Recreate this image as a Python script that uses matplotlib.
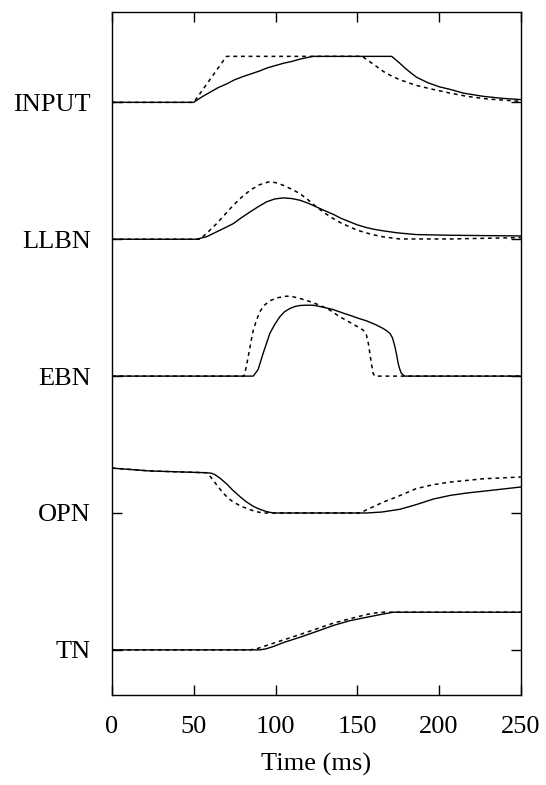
import matplotlib
matplotlib.use("Agg")
import matplotlib.pyplot as plt
import numpy as np

plt.rcParams['font.family'] = ['Liberation Serif', 'DejaVu Serif']

# Neuron labels, top to bottom
names = ["INPUT", "LLBN", "EBN", "OPN", "TN"]

# Activity (heights above each baseline, in units of track spacing)
# solid = model, dashed = reference
input_t_solid = [0, 50, 55, 60, 65, 70, 75, 80, 85, 90, 95, 100, 105, 110, 115, 120, 123,
                 171, 175, 180, 186, 193, 200, 207, 215, 227, 238, 250]
input_v_solid = [0, 0, 0.040, 0.074, 0.108, 0.134, 0.165, 0.188, 0.208, 0.228, 0.252, 0.269, 0.286,
                 0.299, 0.316, 0.329, 0.336,
                 0.336, 0.296, 0.242, 0.185, 0.144, 0.114, 0.094, 0.067, 0.044, 0.030, 0.020]
input_t_dash = [0, 50, 70, 153, 157, 161, 166, 171, 176, 186, 196.5, 207, 217, 230, 250]
input_v_dash = [0, 0, 0.336, 0.336, 0.302, 0.269, 0.225, 0.192, 0.165, 0.124, 0.094, 0.067, 0.044,
                0.024, 0.007]

llbn_t_solid = [0, 51.8, 58, 64, 69, 74.2, 79, 84.5, 89.5, 94.5, 99.5, 104.7, 110, 114.9, 120, 125,
                130, 135.3, 140, 145.4, 150, 155.6, 160, 166, 175, 186, 207, 250]
llbn_v_solid = [0, 0, 0.019, 0.054, 0.083, 0.114, 0.156, 0.200, 0.238, 0.273, 0.294, 0.302, 0.297,
                0.285, 0.263, 0.236, 0.209, 0.182, 0.153, 0.127, 0.105, 0.085, 0.073, 0.061, 0.046,
                0.034, 0.029, 0.024]
llbn_t_dash = [0, 53.8, 58, 64, 69, 74.2, 79, 84.5, 90, 95.5, 100, 104.7, 110, 114.9, 120, 125, 130,
               135.3, 140, 145.4, 150, 155.6, 160, 166, 176, 207, 250]
llbn_v_dash = [0, 0, 0.044, 0.114, 0.180, 0.248, 0.304, 0.358, 0.397, 0.418, 0.414, 0.394, 0.365,
               0.333, 0.287, 0.236, 0.192, 0.151, 0.119, 0.090, 0.066, 0.046, 0.032, 0.017, 0.002,
               0.002, 0.012]

ebn_t_solid = [0, 86.4, 89.4, 92.4, 96.5, 99.5, 102.6, 105.5, 108.8, 112, 115, 119, 123, 129, 135,
               141, 147, 151, 155.6, 161, 165.8, 168, 170, 171.5, 173, 174, 175, 176, 177, 179, 250]
ebn_v_solid = [0, 0, 0.049, 0.165, 0.311, 0.377, 0.433, 0.470, 0.494, 0.509, 0.516, 0.518, 0.518,
               0.504, 0.487, 0.462, 0.438, 0.421, 0.404, 0.377, 0.348, 0.331, 0.311, 0.280, 0.214,
               0.158, 0.092, 0.049, 0.019, 0, 0]
ebn_t_dash = [0, 80.7, 82, 83.3, 84.8, 86.4, 88.4, 90.4, 93, 96.5, 101, 106.8, 111, 115, 121, 127,
              133, 139.4, 146, 151, 153.6, 155.6, 156.7, 157.7, 158.7, 159.7, 160.7, 250]
ebn_v_dash = [0, 0, 0.061, 0.141, 0.238, 0.336, 0.409, 0.470, 0.516, 0.550, 0.572, 0.584, 0.579,
              0.567, 0.545, 0.518, 0.484, 0.433, 0.389, 0.355, 0.336, 0.299, 0.243, 0.165, 0.085,
              0.019, 0, 0]

opn_t_solid = [0, 23.4, 58, 61, 63, 66, 70, 74, 78.5, 82, 86.4, 90, 94.5, 98.6, 155.6, 165, 176,
               186, 196.5, 207, 217, 230, 250]
opn_v_solid = [0.328, 0.307, 0.294, 0.290, 0.280, 0.255, 0.214, 0.165, 0.117, 0.083, 0.049, 0.029,
               0.010, 0, 0, 0.007, 0.027, 0.061, 0.102, 0.129, 0.146, 0.163, 0.190]
opn_t_dash = [0, 23.4, 58, 60, 62, 65, 68, 71, 74.2, 79, 84.5, 88, 92.4, 151.5, 158, 166, 176, 186,
              196.5, 207, 217, 227, 250]
opn_v_dash = [0.328, 0.307, 0.294, 0.268, 0.238, 0.190, 0.146, 0.109, 0.080, 0.049, 0.024, 0.010,
              0, 0, 0.036, 0.080, 0.127, 0.178, 0.207, 0.226, 0.238, 0.250, 0.263]

tn_t_solid = [0, 90.4, 94, 98.6, 105, 114.9, 125, 135.3, 145, 155.6, 165, 172, 250]
tn_v_solid = [0, 0, 0.007, 0.024, 0.054, 0.092, 0.134, 0.178, 0.212, 0.238, 0.260, 0.275, 0.275]
tn_t_dash = [0, 84.5, 89, 94.5, 105, 114.9, 125, 135.3, 145, 155.6, 161, 166, 250]
tn_v_dash = [0, 0, 0.010, 0.032, 0.073, 0.112, 0.153, 0.195, 0.226, 0.258, 0.270, 0.275, 0.275]

solid = [(input_t_solid, input_v_solid), (llbn_t_solid, llbn_v_solid), (ebn_t_solid, ebn_v_solid),
         (opn_t_solid, opn_v_solid), (tn_t_solid, tn_v_solid)]
dashed = [(input_t_dash, input_v_dash), (llbn_t_dash, llbn_v_dash), (ebn_t_dash, ebn_v_dash),
          (opn_t_dash, opn_v_dash), (tn_t_dash, tn_v_dash)]

fig = plt.figure(figsize=(5.46, 7.85), dpi=100)
ax = fig.add_axes([0.205, 0.1146, 0.749, 0.8701])

n = len(names)
for i in range(n):
    base = n - 1 - i
    ts, vs = solid[i]
    td, vd = dashed[i]
    ax.plot(td, np.array(vd) + base, color='black', lw=1.1, ls=(0, (2.5, 2.5)))
    ax.plot(ts, np.array(vs) + base, color='black', lw=1.0)

ax.set_xlim(0, 250)
ax.set_ylim(-0.33, 4.66)
ax.set_xticks([0, 50, 100, 150, 200, 250])
ax.set_yticks(range(n))
ax.set_yticklabels(names[::-1])
ax.tick_params(direction='in', length=7, width=1, labelsize=19, top=True, right=True, pad=15)
for s in ax.spines.values():
    s.set_linewidth(1)
ax.set_xlabel("Time (ms)", fontsize=19, labelpad=11)

fig.savefig("out.png", dpi=100)
